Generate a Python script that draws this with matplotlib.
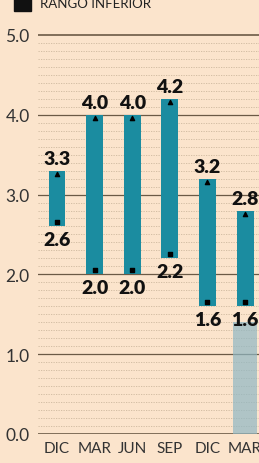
import matplotlib
matplotlib.use("Agg")
import matplotlib.pyplot as plt
import numpy as np

# Datos del gráfico
periodos = ["DIC", "MAR", "JUN", "SEP", "DIC", "MAR"]
rango_superior = [3.3, 4.0, 4.0, 4.2, 3.2, 2.8]
rango_inferior = [2.6, 2.0, 2.0, 2.2, 1.6, 1.6]
y_ticks = [0.0, 1.0, 2.0, 3.0, 4.0, 5.0]

plt.rcParams["font.family"] = ["Lato", "DejaVu Sans"]

fondo = "#fbe4cc"
azul = "#1b8ca0"

fig = plt.figure(figsize=(2.59, 4.64), dpi=100, facecolor=fondo)
ax = fig.add_axes([38 / 259, 29 / 464, 221 / 259, 435 / 464])
ax.set_facecolor(fondo)

x = np.arange(len(periodos))
ax.set_xlim(-0.505, 5.37)
ax.set_ylim(0, 5.45)

# Líneas de cuadrícula
for v in np.arange(0.1, 5.0, 0.1):
    if abs(v - round(v)) > 0.01:
        ax.axhline(v, color="#cdb89e", lw=0.6, ls=(0, (1.5, 1.5)), zorder=0)
for v in y_ticks:
    ax.axhline(v, color="#6b5a46", lw=1.2 if v in (0.0, 5.0) else 0.9, zorder=1)

# Zona sombreada en la última columna
ax.bar(x[-1], 1.4, width=0.64, color="#8fb7c4", alpha=0.7, zorder=1.5)

# Barras de rango
alturas = [s - i for s, i in zip(rango_superior, rango_inferior)]
ax.bar(x, alturas, bottom=rango_inferior, width=0.45, color=azul, zorder=2)
ax.scatter(x, [s - 0.04 for s in rango_superior], marker="^", s=9, color="black", zorder=3)
ax.scatter(x, [i + 0.05 for i in rango_inferior], marker="s", s=9, color="black", zorder=3)

for xi, s, i in zip(x, rango_superior, rango_inferior):
    ax.text(xi, s + 0.05, f"{s:.1f}", ha="center", va="bottom", fontsize=14,
            fontweight="heavy", color="#111111", zorder=4)
    ax.text(xi, i - 0.06, f"{i:.1f}", ha="center", va="top", fontsize=14,
            fontweight="heavy", color="#111111", zorder=4)

# Ejes
ax.set_yticks(y_ticks)
ax.set_yticklabels([f"{v:.1f}" for v in y_ticks], fontsize=12.5, color="#333333")
ax.set_xticks(x)
ax.set_xticklabels(periodos, fontsize=11, color="#333333")
ax.tick_params(axis="both", length=0, pad=6)
ax.tick_params(axis="x", pad=5)
for sp in ax.spines.values():
    sp.set_visible(False)

# Leyenda recortada arriba
fig.patches.append(plt.Rectangle((14 / 259, 1 - 12 / 464), 17 / 259, 14 / 464,
                                 transform=fig.transFigure, color="#111111"))
fig.text(40 / 259, 1 - 4 / 464, "RANGO INFERIOR", fontsize=9.5, color="#222222",
         va="center", ha="left")

fig.savefig("out.png", dpi=100, facecolor=fondo)
